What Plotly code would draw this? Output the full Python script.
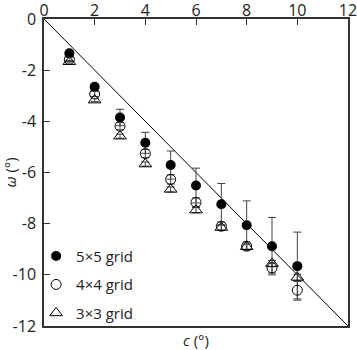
import plotly.graph_objects as go

# data
c = [1, 2, 3, 4, 5, 6, 7, 8, 9, 10]

w_5x5 = [-1.34, -2.65, -3.85, -4.84, -5.71, -6.51, -7.24, -8.06, -8.88, -9.66]
err_5x5 = [0.08, 0.10, 0.32, 0.41, 0.55, 0.68, 0.81, 0.95, 1.12, 1.33]

w_4x4 = [-1.58, -2.93, -4.19, -5.26, -6.27, -7.17, -8.10, -8.88, -9.73, -10.60]
err_4x4 = [0.08, 0.10, 0.14, 0.16, 0.18, 0.18, 0.16, 0.16, 0.20, 0.34]

w_3x3 = [-1.67, -3.17, -4.58, -5.67, -6.66, -7.47, -8.15, -8.90, -9.56, -10.10]
err_3x3 = [0.05, 0.06, 0.08, 0.08, 0.10, 0.10, 0.10, 0.10, 0.12, 0.12]

line_x = [0, 12]
line_y = [0, -12]

x_ticks = [0, 2, 4, 6, 8, 10, 12]
y_ticks = [0, -2, -4, -6, -8, -10, -12]
y_ticktext = ["0", "-2", "-4", "-6", "-8", "-10", "-12"]

FONT = "Open Sans"
ERRC = "#444444"

fig = go.Figure()

# 1:1 reference line
fig.add_trace(go.Scatter(
    x=line_x, y=line_y, mode="lines",
    line=dict(color="black", width=1),
    showlegend=False, hoverinfo="skip"
))

fig.add_trace(go.Scatter(
    x=c, y=w_5x5, mode="markers", name="5×5 grid", legendgroup="a",
    marker=dict(symbol="circle", size=10, color="black"),
    error_y=dict(type="data", array=err_5x5, color=ERRC, thickness=1, width=4)
))
fig.add_trace(go.Scatter(
    x=c, y=w_4x4, mode="markers", name="4×4 grid", legendgroup="b",
    marker=dict(symbol="circle-open", size=10, color="black", line=dict(width=1)),
    error_y=dict(type="data", array=err_4x4, color=ERRC, thickness=1, width=4)
))
fig.add_trace(go.Scatter(
    x=c, y=w_3x3, mode="markers", name="3×3 grid", legendgroup="c",
    marker=dict(symbol="triangle-up-open", size=11, color="black", line=dict(width=1)),
    error_y=dict(type="data", array=err_3x3, color=ERRC, thickness=1, width=4)
))

fig.update_layout(
    width=357, height=350,
    margin=dict(l=44, r=9, t=19, b=24),
    plot_bgcolor="white", paper_bgcolor="white",
    font=dict(family=FONT, size=15, color="#222222"),
    legend=dict(
        x=-0.026, y=-0.012, xanchor="left", yanchor="bottom",
        bgcolor="rgba(0,0,0,0)", font=dict(size=15),
        tracegroupgap=6, itemwidth=30
    ),
    annotations=[
        dict(text="<i>c</i> (°)", x=0.5, y=-0.047, xref="paper", yref="paper",
             xanchor="center", yanchor="middle", showarrow=False, font=dict(size=15)),
        dict(text="<i>ω</i> (°)", x=-0.112, y=0.5, xref="paper", yref="paper",
             xanchor="center", yanchor="middle", textangle=-90, showarrow=False,
             font=dict(size=15)),
    ],
)

fig.update_xaxes(
    range=[0, 12], side="top", tickvals=x_ticks, automargin=False,
    ticks="inside", ticklen=6, tickcolor="#333333", ticklabelstandoff=-5,
    tickfont=dict(size=16), ticklabeloverflow="allow",
    showline=True, linecolor="#333333", linewidth=1.5, mirror=True,
    showgrid=False, zeroline=False
)
fig.update_yaxes(
    range=[-12, 0], tickvals=y_ticks, ticktext=y_ticktext, automargin=False,
    ticks="inside", ticklen=6, tickcolor="#333333", ticklabelstandoff=3,
    tickfont=dict(size=16), ticklabeloverflow="allow",
    showline=True, linecolor="#333333", linewidth=1.5, mirror=True,
    showgrid=False, zeroline=False
)

# drop the browser's default body margin so the figure fills the window
fig.write_html("out.html", config={"displayModeBar": False},
               post_script="document.body.style.margin='0';")
